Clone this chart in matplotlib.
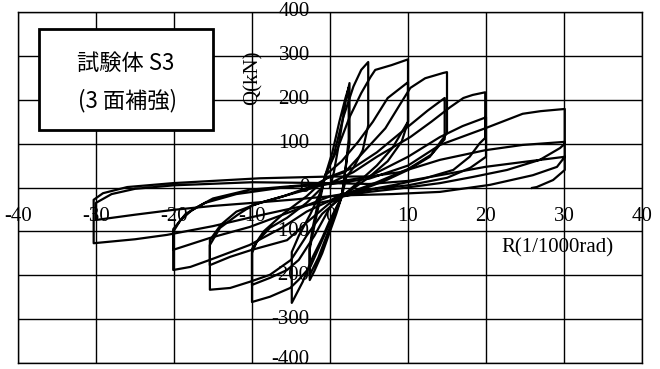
import matplotlib.pyplot as plt
from matplotlib.patches import Rectangle

# drift angle R (1/1000 rad) and shear Q (kN), one list pair per amplitude
r_25 = [0.0, 0.5, 1.0, 1.5, 2.0, 2.5, 2.5, 2.2, 1.9, 1.5, 0.8, 0.0, -1.0, -2.0, -2.6, -2.6, -2.2, -1.6, -0.6,
        0.3, 1.2, 2.0, 2.4, 2.4, 2.0, 1.5, 0.0, -1.5, -2.6, -2.6, -1.8, -0.6]
q_25 = [0, 35, 85, 140, 195, 238, 100, 70, 30, -21, -60, -100, -150, -190, -211, -135, -90, -40, 28,
        80, 150, 205, 228, 110, 45, -21, -90, -160, -199, -140, -70, 28]

r_5 = [-0.6, 0.5, 1.7, 3.0, 4.0, 4.9, 4.9, 4.2, 3.0, 2.1, 1.5, 0.0, -1.0, -2.2, -3.5, -4.9, -4.9, -4.0, -2.5, -1.2, -0.6]
q_5 = [28, 75, 160, 230, 268, 286, 142, 85, 45, 24, -21, -74, -115, -158, -215, -263, -147, -110, -60, -10, 28]

r_10 = [-0.6, 1.0, 2.5, 4.0, 5.2, 5.8, 7.9, 10.0, 10.0, 9.2, 7.4, 4.9, 1.5, 0.5, -1.0, -2.5, -4.0,
        -5.1, -7.7, -10.0, -10.0, -9.4, -7.7, -5.5, -3.0, -1.0, -0.6,
        1.5, 3.6, 5.5, 7.4, 10.0, 10.0, 8.0, 6.0, 3.5, 1.5, 0.0, -2.0, -4.0, -5.5, -7.7, -10.0,
        -10.0, -8.5, -6.0, -3.0, -0.6]
q_10 = [28, 90, 160, 215, 252, 268, 279, 292, 150, 105, 60, 22, -21, -60, -120, -180, -210,
        -229, -249, -261, -149, -124, -92, -69, -35, 0, 28,
        60, 104, 150, 204, 240, 150, 90, 50, 10, -21, -45, -110, -165, -188, -206, -222,
        -140, -100, -60, -20, 20]

r_15 = [-0.6, 1.9, 4.0, 7.1, 9.0, 10.3, 12.2, 14.5, 15.0, 15.0, 14.0, 12.8, 10.0, 7.0, 4.0, 1.5, -1.0, -3.0,
        -5.0, -7.7, -10.3, -12.8, -15.4, -15.4, -14.1, -11.9, -9.9, -6.0, -2.0, 0.0,
        3.0, 6.0, 9.0, 12.5, 14.7, 14.7, 13.0, 10.0, 6.0, 2.0, 0.0, -3.0, -5.5, -10.0, -12.8, -15.4,
        -15.4, -14.0, -12.0, -9.0, -5.0, 0.0]
q_15 = [20, 35, 75, 135, 190, 227, 249, 261, 263, 124, 100, 70, 40, 15, -5, -21, -60, -110,
        -165, -199, -215, -229, -233, -131, -92, -63, -40, -20, 5, 25,
        45, 80, 124, 175, 204, 110, 75, 42, 12, -15, -35, -80, -120, -142, -158, -177,
        -120, -85, -55, -35, -15, 10]

r_20 = [0.0, 3.0, 6.0, 10.3, 13.0, 15.4, 17.1, 18.3, 19.9, 19.9, 19.2, 17.9, 15.8, 12.0, 8.0, 4.0, 1.5, 0.0,
        -3.0, -6.0, -10.3, -15.4, -17.9, -20.1, -20.1, -19.2, -17.6, -15.0, -10.3, -5.0, 0.0,
        5.0, 10.0, 14.1, 17.0, 20.0, 20.0, 18.0, 15.0, 10.0, 5.0, 0.0, -5.0, -10.3, -15.4, -20.1,
        -20.1, -18.5, -16.0, -12.0, -6.0, 0.0]
q_20 = [10, 35, 70, 115, 150, 183, 204, 211, 217, 113, 101, 70, 40, 20, 5, -8, -15, -30,
        -55, -90, -131, -165, -181, -188, -101, -75, -50, -25, -5, 3, 10,
        25, 70, 115, 140, 160, 70, 45, 22, 5, -5, -20, -55, -90, -115, -142,
        -95, -60, -35, -15, 0, 8]

r_30 = [0.0, 5.0, 10.0, 14.1, 19.9, 24.7, 27.0, 30.1, 30.1, 29.5, 26.9, 22.7, 18.3, 14.1, 9.0, 4.0, 1.5, 0.0,
        -5.0, -9.9, -15.0, -20.9, -25.0, -30.3, -30.3, -29.1, -26.0, -20.1, -9.0, 0.0, 5.0, 9.0,
        14.1, 19.9, 24.7, 30.1, 30.1, 29.1, 26.0, 20.5, 14.1, 8.0, 1.5, 0.0, -5.0, -9.9, -15.0,
        -20.1, -25.0, -30.0, -30.0, -28.0, -25.0, -20.0, -10.0, 0.0, 5.0, 10.0, 14.1, 19.9, 24.7, 30.1,
        30.1, 28.6, 26.5, 25.9]
q_30 = [8, 20, 50, 97, 135, 168, 174, 179, 100, 90, 63, 40, 24, 10, -2, -12, -21, -30,
        -48, -67, -88, -108, -118, -127, -28, -13, 1, 10, 21, 25, 25, 35,
        63, 85, 97, 104, 70, 47, 28, 6, -10, -15, -18, -20, -28, -35, -42,
        -51, -62, -74, -35, -15, -3, 5, 12, 10, 8, 15, 28, 47, 58, 70,
        40, 17, 1, -1]

x_ticks = [-40, -30, -20, -10, 0, 10, 20, 30, 40]
y_ticks = [-400, -300, -200, -100, 0, 100, 200, 300, 400]

fig = plt.figure(figsize=(6.6, 3.69), dpi=100)
ax = fig.add_axes([18 / 660, 6 / 369, 624 / 660, 351 / 369])
ax.set_xlim(-40, 40)
ax.set_ylim(-400, 400)

# grid drawn by hand so it sits under the loops
for x in x_ticks:
    ax.axvline(x, color="black", lw=1.0, zorder=1)
for y in y_ticks:
    ax.axhline(y, color="black", lw=1.0, zorder=1)
ax.set_xticks([])
ax.set_yticks([])
for s in ax.spines.values():
    s.set_linewidth(1.0)

for r, q in [(r_25, q_25), (r_5, q_5), (r_10, q_10), (r_15, q_15), (r_20, q_20), (r_30, q_30)]:
    ax.plot(r, q, color="black", lw=1.6, zorder=3)

serif = "Liberation Serif"
for x in x_ticks:
    ax.text(x, -67, str(x), ha="center", va="center", fontsize=15, family=serif, zorder=2, clip_on=False)
for y in y_ticks:
    yy = y if y > -400 else -393
    ax.text(-2.6, yy, str(y), ha="right", va="center", fontsize=15, family=serif, zorder=2, clip_on=False)

ax.text(-9.9, 251, "Q(kN)", rotation=90, ha="center", va="center", fontsize=15, family=serif, zorder=2)
ax.text(29.1, -138, "R(1/1000rad)", ha="center", va="center", fontsize=15, family=serif, zorder=2)

# specimen label box
ax.add_patch(Rectangle((-37.3, 131), 22.3, 230, facecolor="white", edgecolor="black", lw=2.0, zorder=4))
ax.text(-26.2, 283, "試験体 S3", ha="center", va="center", fontsize=16,
        family=["Noto Sans CJK JP", "DejaVu Sans"], zorder=5)
ax.text(-26.0, 199, "(3 面補強)", ha="center", va="center", fontsize=16,
        family=["Noto Sans CJK JP", "DejaVu Sans"], zorder=5)

fig.savefig("out.png", dpi=100)
